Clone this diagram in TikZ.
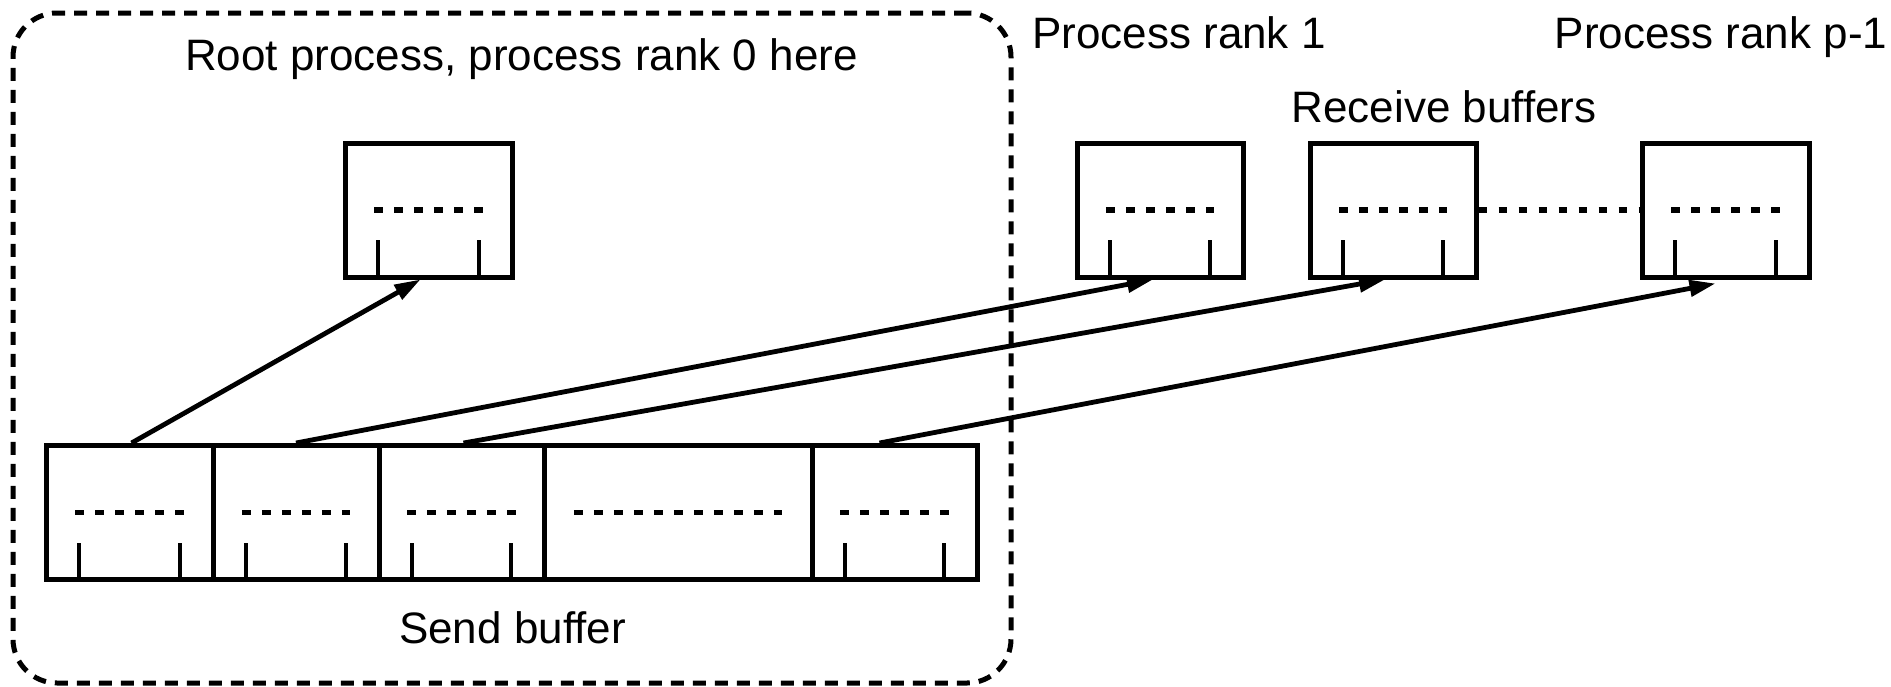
\documentclass[tikz,border=0pt]{standalone}
\usepackage{fontspec}
\setmainfont{Liberation Sans}
\usetikzlibrary{arrows.meta}
\tikzset{
  dotline/.style={line width=2.6pt, dash pattern=on 4.4pt off 5.6pt},
  buf/.style={draw, line width=2.5pt, minimum height=67pt, inner sep=0pt, path picture={
    \draw[line width=2.3pt] ([xshift=16.5pt]path picture bounding box.south west) -- ++(0pt,18.5pt);
    \draw[line width=2.3pt] ([xshift=-16.5pt]path picture bounding box.south east) -- ++(0pt,18.5pt);
    \draw[dotline] ([xshift=-27.1pt]path picture bounding box.center) -- ++(54.2pt,0pt);
  }},
  widebuf/.style={draw, line width=2.5pt, minimum height=67pt, inner sep=0pt, path picture={
    \draw[dotline] ([xshift=-52.1pt]path picture bounding box.center) -- ++(104.2pt,0pt);
  }},
  region/.style={draw, line width=2.5pt, dash pattern=on 6.5pt off 4.5pt, rounded corners=22pt, inner sep=0pt},
  lbl/.style={font=\fontsize{22}{26}\selectfont, inner sep=0pt, anchor=base},
  arr/.style={line width=2.4pt, -{Triangle[length=13pt,width=8pt]}},
}
\begin{document}
\begin{tikzpicture}[x=0.5pt, y=-0.5pt]
\useasboundingbox (0,0) rectangle (1891,686);
% root process region
\node[region, minimum width=499pt, minimum height=335pt] (root) at (512,348) {};
% labels
\node[lbl] (t0) at (521.5,70) {Root process, process rank 0 here};
\node[lbl] (t1) at (1179,48) {Process rank 1};
\node[lbl] (tp) at (1721,48) {Process rank p-1};
\node[lbl] (tr) at (1444,122) {Receive buffers};
\node[lbl] (ts) at (512.5,643) {Send buffer};
% receive buffers
\node[buf, minimum width=83.5pt] (r0) at (428.5,210) {};
\node[buf, minimum width=83pt] (r1) at (1160,210) {};
\node[buf, minimum width=83pt] (r2) at (1393,210) {};
\node[buf, minimum width=83.5pt] (rp) at (1725.5,210) {};
\draw[dotline] (r2.east) -- (rp.west);
% send buffer
\node[buf, minimum width=83.5pt] (c1) at (129.5,512.5) {};
\node[buf, minimum width=83pt] (c2) at (296,512.5) {};
\node[buf, minimum width=82.5pt] (c3) at (461.5,512.5) {};
\node[widebuf, minimum width=134pt] (c4) at (678,512.5) {};
\node[buf, minimum width=82.5pt] (c5) at (894.5,512.5) {};
% arrows
\draw[arr] ([xshift=1pt]c1.north) -- ([xshift=-4pt]r0.south);
\draw[arr] (c2.north) -- ([xshift=-3.5pt]r1.south);
\draw[arr] ([xshift=1pt]c3.north) -- ([xshift=-4pt]r2.south);
\draw[arr] ([xshift=-7.5pt]c5.north) -- ([xshift=-5pt,yshift=-2pt]rp.south);
\end{tikzpicture}
\end{document}
